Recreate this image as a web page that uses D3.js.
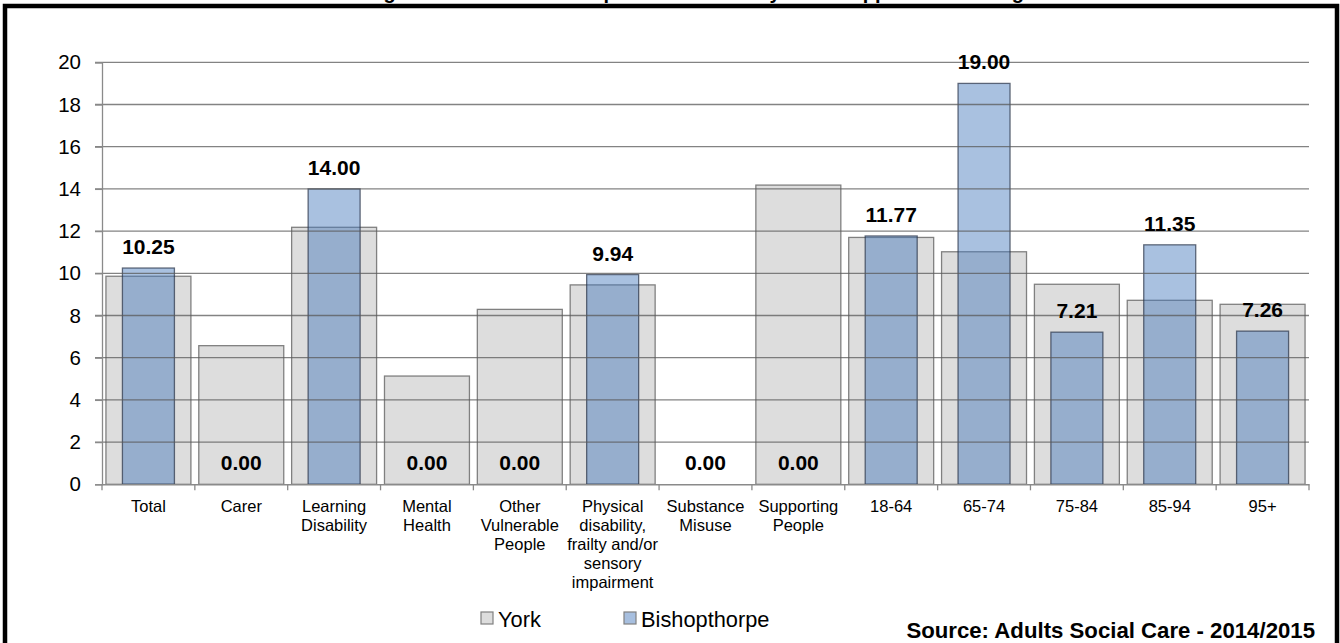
<!DOCTYPE html>
<html>
<head>
<meta charset="utf-8">
<script src="https://cdn.jsdelivr.net/npm/d3@7"></script>
<style>
  html, body { margin: 0; padding: 0; background: #fff; }
  svg { display: block; font-family: "Liberation Sans", Arial, sans-serif; }
</style>
</head>
<body>
<svg id="chart" width="1340" height="643"></svg>
<script>
const titleText = "Clients Receiving Social Care Services per 1000 Adults by Main Support Reason/Age";
const categories = ["Total", "Carer", "Learning Disability", "Mental Health", "Other Vulnerable People",
  "Physical disability, frailty and/or sensory impairment", "Substance Misuse", "Supporting People",
  "18-64", "65-74", "75-84", "85-94", "95+"];
const categoryLines = [["Total"], ["Carer"], ["Learning", "Disability"], ["Mental", "Health"],
  ["Other", "Vulnerable", "People"], ["Physical", "disability,", "frailty and/or", "sensory", "impairment"],
  ["Substance", "Misuse"], ["Supporting", "People"], ["18-64"], ["65-74"], ["75-84"], ["85-94"], ["95+"]];
const yorkValues = [9.86, 6.57, 12.18, 5.13, 8.29, 9.45, 0, 14.18, 11.70, 11.02, 9.48, 8.72, 8.53];
const bishopValues = [10.25, 0, 14.00, 0, 0, 9.94, 0, 0, 11.77, 19.00, 7.21, 11.35, 7.26];
const yTicks = [0, 2, 4, 6, 8, 10, 12, 14, 16, 18, 20];
const seriesNames = ["York", "Bishopthorpe"];
const sourceText = "Source: Adults Social Care - 2014/2015";

const svg = d3.select("#chart");
const x = d3.scaleBand().domain(categories).range([102, 1309]).padding(0);
const y = d3.scaleLinear().domain([0, 20]).range([484.3, 62.3]);
const bw = x.bandwidth();
const greyW = bw * 0.915, blueW = bw * 0.56;

// title (mostly clipped off at top, as in the reference)
svg.append("text").attr("x", 632).attr("y", -1).attr("text-anchor", "middle")
  .attr("font-weight", "bold").attr("font-size", 20).text(titleText);

// frame
svg.append("rect").attr("x", 5).attr("y", 6).attr("width", 1332).attr("height", 700)
  .attr("fill", "none").attr("stroke", "#000").attr("stroke-width", 4.5);

// York bars
svg.append("g").selectAll("rect").data(categories).join("rect")
  .attr("x", (d) => x(d) + (bw - greyW) / 2)
  .attr("width", greyW)
  .attr("y", (d, i) => y(yorkValues[i]))
  .attr("height", (d, i) => y(0) - y(yorkValues[i]))
  .attr("fill", "#dddddd")
  .attr("stroke", (d, i) => yorkValues[i] > 0 ? "#808080" : "none")
  .attr("stroke-width", 1.3);

// Bishopthorpe bars
svg.append("g").selectAll("rect").data(categories).join("rect")
  .attr("x", (d) => x(d) + (bw - blueW) / 2)
  .attr("width", blueW)
  .attr("y", (d, i) => y(bishopValues[i]))
  .attr("height", (d, i) => y(0) - y(bishopValues[i]))
  .attr("fill", "rgba(68,119,187,0.46)")
  .attr("stroke", (d, i) => bishopValues[i] > 0 ? "rgba(40,50,70,0.7)" : "none")
  .attr("stroke-width", 1.3);

// gridlines on top
svg.append("g").selectAll("line").data(yTicks.filter(t => t > 0)).join("line")
  .attr("x1", 95).attr("x2", 1309)
  .attr("y1", d => y(d)).attr("y2", d => y(d))
  .attr("stroke", "rgba(90,90,90,0.75)").attr("stroke-width", 1.3);

// y axis
const yAxis = d3.axisLeft(y).tickValues(yTicks).tickSize(7).tickPadding(14).tickFormat(d3.format("d"));
const gy = svg.append("g").attr("transform", "translate(102,0)").call(yAxis);
gy.select(".domain").attr("stroke", "#8a8a8a").attr("stroke-width", 1.3);
gy.selectAll(".tick line").attr("stroke", "#8a8a8a").attr("stroke-width", 1.3);
gy.selectAll(".tick text").attr("font-size", 20.5).attr("fill", "#000")
  .attr("font-family", "'Liberation Sans', Arial, sans-serif");

// x axis
const xAxis = d3.axisBottom(x).tickSize(0).tickFormat("");
const gx = svg.append("g").attr("transform", `translate(0,${y(0)})`).call(xAxis);
gx.select(".domain").attr("stroke", "#8a8a8a").attr("stroke-width", 1.5);
gx.append("g").selectAll("line").data(categories.concat(["__end"])).join("line")
  .attr("x1", (d, i) => 102 + i * bw).attr("x2", (d, i) => 102 + i * bw)
  .attr("y1", 0).attr("y2", 6).attr("stroke", "#8a8a8a").attr("stroke-width", 1.3);

// category labels
const catG = svg.append("g");
categories.forEach((c, i) => {
  const t = catG.append("text").attr("x", x(c) + bw / 2).attr("y", 512)
    .attr("text-anchor", "middle").attr("font-size", 16.5).attr("fill", "#000");
  categoryLines[i].forEach((ln, j) => {
    t.append("tspan").attr("x", x(c) + bw / 2).attr("dy", j === 0 ? 0 : 18.9).text(ln);
  });
});

// data labels
svg.append("g").selectAll("text").data(categories).join("text")
  .attr("x", d => x(d) + bw / 2)
  .attr("y", (d, i) => y(bishopValues[i]) - 14)
  .attr("text-anchor", "middle").attr("font-weight", "bold").attr("font-size", 21)
  .attr("fill", "#000")
  .text((d, i) => bishopValues[i].toFixed(2));

// legend
const legendX = [481, 624];
const legendFill = ["#dddddd", "#a7bfdf"];
seriesNames.forEach((s, i) => {
  svg.append("rect").attr("x", legendX[i]).attr("y", 612).attr("width", 12).attr("height", 12)
    .attr("fill", legendFill[i]).attr("stroke", "#808080").attr("stroke-width", 1.2);
  svg.append("text").attr("x", legendX[i] + 17).attr("y", 627).attr("font-size", 21.8)
    .attr("fill", "#000").text(s);
});

// source
svg.append("text").attr("x", 1315).attr("y", 638).attr("text-anchor", "end")
  .attr("font-weight", "bold").attr("font-size", 22.2).attr("fill", "#000").text(sourceText);
</script>
</body>
</html>
